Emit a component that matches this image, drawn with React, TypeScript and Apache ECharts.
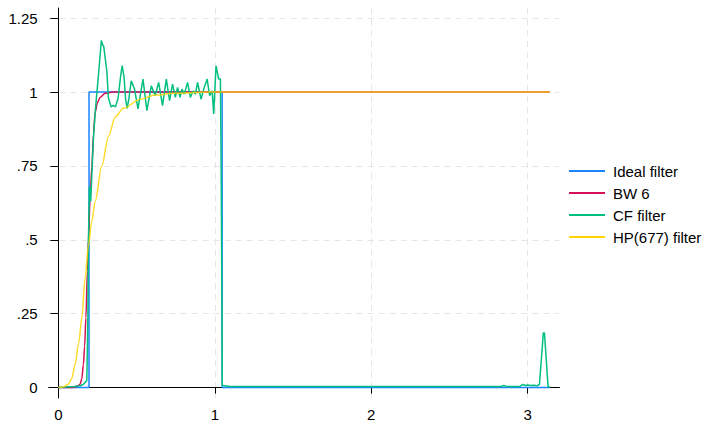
import React, { useEffect, useRef } from 'react';
import * as echarts from 'echarts';

const xTickValues = [0, 1, 2, 3];
const xTickLabels = ['0', '1', '2', '3'];
const yTickValues = [0, 0.25, 0.5, 0.75, 1, 1.25];
const yTickLabels = ['0', '.25', '.5', '.75', '1', '1.25'];

const seriesNames = ['Ideal filter', 'BW 6', 'CF filter', 'HP(677) filter'];
const seriesColors = ['#1a85ff', '#d41159', '#00bf7f', '#ffd400'];

const idealFilter: number[][] = [
  [0, 0], [0.196, 0], [0.196, 1], [1.047, 1], [1.047, 0], [3.1416, 0],
];

const bw6: number[][] = [
  [0, 0], [0.088, 0], [0.11, 0.003], [0.125, 0.006], [0.139, 0.011], [0.15, 0.03],
  [0.16, 0.078], [0.168, 0.14], [0.176, 0.236], [0.186, 0.394], [0.192, 0.5],
  [0.203, 0.64], [0.214, 0.75], [0.225, 0.86], [0.235, 0.93], [0.25, 0.965],
  [0.267, 0.982], [0.299, 0.996], [0.35, 1.0], [3.1416, 1.0],
];

const cfFilter: number[][] = [
  [0, 0], [0.05, 0.002], [0.1, 0.004], [0.14, 0.006], [0.16, 0.011], [0.182, 0.024],
  [0.189, 0.25], [0.192, 0.49], [0.199, 0.68], [0.207, 0.63], [0.224, 0.84],
  [0.235, 0.93], [0.26, 1.08], [0.275, 1.175], [0.283, 1.16], [0.29, 1.155],
  [0.31, 1.07], [0.32, 0.98], [0.337, 0.95], [0.35, 0.955], [0.365, 0.95],
  [0.382, 0.98], [0.397, 1.05], [0.408, 1.09], [0.42, 1.05], [0.43, 0.975],
  [0.44, 0.945], [0.45, 0.975], [0.466, 1.038], [0.487, 1.01], [0.509, 0.943],
  [0.541, 1.044], [0.566, 0.937], [0.594, 1.021], [0.619, 0.988], [0.641, 1.033],
  [0.666, 0.954], [0.69, 1.044], [0.711, 0.971], [0.73, 1.027], [0.748, 0.982],
  [0.762, 1.016], [0.778, 0.982], [0.79, 1.01], [0.805, 0.993], [0.826, 1.033],
  [0.844, 0.982], [0.861, 1.004], [0.876, 0.993], [0.89, 1.033], [0.912, 0.976],
  [0.929, 1.01], [0.951, 1.044], [0.967, 0.988], [0.983, 1.004], [0.993, 0.926],
  [1.008, 1.089], [1.025, 1.044], [1.036, 1.044], [1.042, 0.64], [1.048, 0.007],
  [1.1, 0.004], [1.5, 0.004], [2.0, 0.004], [2.5, 0.004], [2.83, 0.004],
  [2.847, 0.007], [2.865, 0.004], [2.95, 0.004], [2.969, 0.011], [2.985, 0.007],
  [3.0, 0.009], [3.02, 0.007], [3.04, 0.008], [3.06, 0.006], [3.075, 0.011],
  [3.088, 0.1], [3.1, 0.185], [3.107, 0.185], [3.118, 0.1], [3.13, 0.005], [3.1416, 0.0],
];

const hp677: number[][] = [
  [0, 0], [0.03, 0.002], [0.064, 0.011], [0.085, 0.03], [0.107, 0.078], [0.13, 0.15],
  [0.15, 0.236], [0.171, 0.37], [0.192, 0.48], [0.213, 0.56], [0.235, 0.63],
  [0.278, 0.75], [0.32, 0.85], [0.363, 0.915], [0.416, 0.945], [0.523, 0.976],
  [0.62, 0.99], [0.737, 0.996], [0.951, 1.0], [3.1416, 1.0],
];

const FONT = '"Liberation Sans", Arial, Helvetica, sans-serif';

export default function App() {
  const ref = useRef<HTMLDivElement>(null);
  useEffect(() => {
    if (!ref.current) return;
    const chart = echarts.init(ref.current, undefined, { renderer: 'svg' });
    const datas = [idealFilter, bw6, cfFilter, hp677];
    const gridLine = { show: true, lineStyle: { color: '#e6e6e6', width: 1, type: [6, 5] as any } };
    chart.setOption({
      animation: false,
      backgroundColor: '#ffffff',
      textStyle: { fontFamily: FONT },
      grid: { left: 48.7, right: 150.5, top: 8, bottom: 21.5, containLabel: false },
      legend: {
        orient: 'vertical',
        left: 569,
        top: 163.5,
        padding: 0,
        icon: 'rect',
        itemWidth: 36,
        itemHeight: 2,
        itemGap: 7,
        textStyle: { fontSize: 15, color: '#000', fontFamily: FONT, padding: [0, 0, 0, 3] },
        data: seriesNames,
      },
      xAxis: {
        type: 'value',
        min: -0.0617,
        max: 3.2033,
        axisLine: { show: true, lineStyle: { color: '#000', width: 1 } },
        axisTick: { show: true, length: 6, lineStyle: { color: '#000' }, customValues: xTickValues },
        axisLabel: {
          customValues: xTickValues,
          fontSize: 15,
          color: '#000',
          fontFamily: FONT,
          margin: 9,
          formatter: (v: number) => xTickLabels[xTickValues.indexOf(v)] ?? '',
        },
        splitLine: gridLine,
      },
      yAxis: {
        type: 'value',
        min: -0.0353,
        max: 1.2846,
        axisLine: { show: true, lineStyle: { color: '#000', width: 1 } },
        axisTick: { show: true, length: 8, lineStyle: { color: '#000' }, customValues: yTickValues },
        axisLabel: {
          customValues: yTickValues,
          fontSize: 15,
          color: '#000',
          fontFamily: FONT,
          margin: 11,
          formatter: (v: number) => yTickLabels[yTickValues.indexOf(v)] ?? '',
        },
        splitLine: gridLine,
      },
      series: seriesNames.map((name, i) => ({
        name,
        type: 'line',
        data: datas[i],
        symbol: 'none',
        smooth: i === 1 || i === 3 ? 0.3 : false,
        smoothMonotone: 'x',
        color: seriesColors[i],
        itemStyle: { color: seriesColors[i] },
        lineStyle: { color: seriesColors[i], width: 1.5, opacity: i === 3 ? 0.82 : 1 },
        z: 2 + i,
      })),
    });
    return () => chart.dispose();
  }, []);
  return <div ref={ref} style={{ position: 'fixed', left: 0, top: 0, width: 710, height: 422 }} />;
}
